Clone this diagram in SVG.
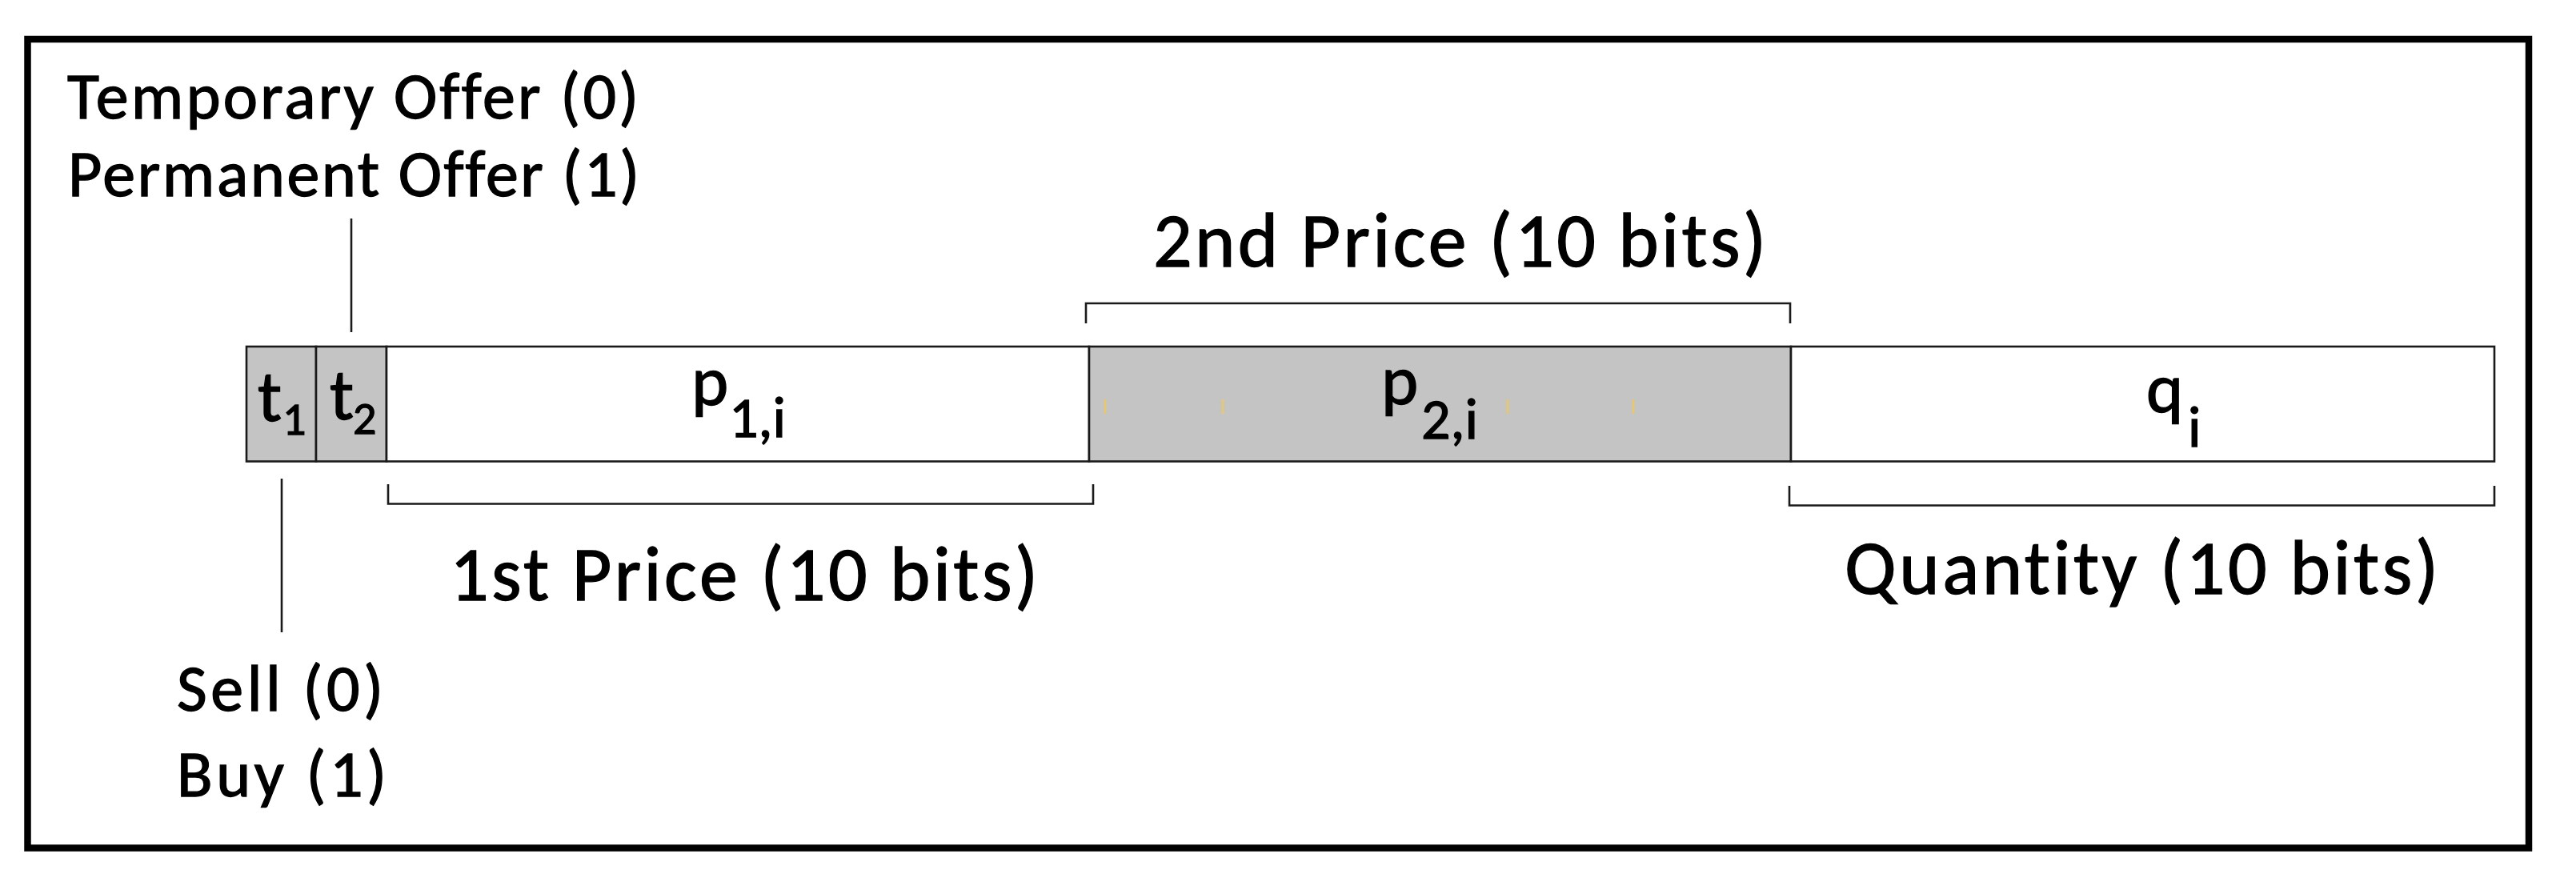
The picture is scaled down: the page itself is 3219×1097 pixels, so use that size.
<svg xmlns="http://www.w3.org/2000/svg" width="3219" height="1097" viewBox="0 0 3219 1097">
  <style>
    .lbl { font-family: Carlito, Lato, "Liberation Sans", sans-serif; fill: #000; stroke: #000; stroke-width: 1.3; font-variant-ligatures: none; font-feature-settings: "liga" 0, "clig" 0; }
    .f { stroke: #1a1a1a; stroke-width: 2.6; }
    .gray { fill: #c4c4c4; }
    .white { fill: #ffffff; }
    .conn { fill: none; stroke: #1a1a1a; stroke-width: 2.6; }
    .mark { stroke: #f2c94c; stroke-width: 2; }
    .main { font-size: 88px; }
    .sub { font-size: 72px; }
    .tmain { font-size: 90px; }
    .tsub { font-size: 58px; }
    .note { font-size: 82px; }
    .big { font-size: 96px; }
  </style>
  <rect width="3219" height="1097" fill="#ffffff"/>
  <g id="frame">
    <rect x="34.5" y="49" width="3125.5" height="1010.5" fill="none" stroke="#000" stroke-width="8.5"/>
  </g>

  <g id="field-t1">
    <rect class="gray f" x="308" y="433" width="87" height="143.5"/>
    <text class="lbl"><tspan class="tmain" x="322" y="526">t</tspan><tspan class="tsub" x="353" y="543">1</tspan></text>
  </g>
  <g id="field-t2">
    <rect class="gray f" x="395" y="433" width="88" height="143.5"/>
    <text class="lbl"><tspan class="tmain" x="412" y="524">t</tspan><tspan class="tsub" x="441" y="542">2</tspan></text>
  </g>
  <g id="field-p1">
    <rect class="white f" x="483" y="433" width="878" height="143.5"/>
    <text class="lbl"><tspan class="main" x="864" y="506">p</tspan><tspan class="sub" x="911" y="546">1,i</tspan></text>
  </g>
  <g id="field-p2">
    <rect class="gray f" x="1361" y="433" width="877" height="143.5"/>
    <line class="mark" x1="1381" y1="499" x2="1381" y2="517"/>
    <line class="mark" x1="1528" y1="499" x2="1528" y2="517"/>
    <line class="mark" x1="1884" y1="499" x2="1884" y2="517"/>
    <line class="mark" x1="2041" y1="499" x2="2041" y2="517"/>
    <text class="lbl"><tspan class="main" x="1726" y="505">p</tspan><tspan class="sub" x="1776" y="548">2,i</tspan></text>
  </g>
  <g id="field-q">
    <rect class="white f" x="2238" y="433" width="879" height="143.5"/>
    <text class="lbl"><tspan class="main" x="2682" y="515">q</tspan><tspan class="sub" x="2734" y="558">i</tspan></text>
  </g>

  <g id="connectors">
    <line class="conn" x1="439" y1="273" x2="439" y2="415"/>
    <line class="conn" x1="352" y1="598" x2="352" y2="790"/>
    <path class="conn" d="M1357 404 V379 H2237 V404"/>
    <path class="conn" d="M485 605 V629.5 H1366 V605"/>
    <path class="conn" d="M2236 607 V631.5 H3117 V607"/>
  </g>

  <g id="label-t2">
    <text class="lbl note" x="84" y="148" textLength="714">Temporary Offer (0)</text>
    <text class="lbl note" x="85" y="245" textLength="714">Permanent Offer (1)</text>
  </g>
  <g id="label-t1">
    <text class="lbl note" x="221" y="888" textLength="258">Sell (0)</text>
    <text class="lbl note" x="221" y="995" textLength="262">Buy (1)</text>
  </g>
  <g id="label-p2">
    <text class="lbl big" x="1441" y="333" textLength="766">2nd Price (10 bits)</text>
  </g>
  <g id="label-p1">
    <text class="lbl big" x="562" y="750" textLength="735">1st Price (10 bits)</text>
  </g>
  <g id="label-q">
    <text class="lbl big" x="2305" y="742" textLength="742">Quantity (10 bits)</text>
  </g>
</svg>
